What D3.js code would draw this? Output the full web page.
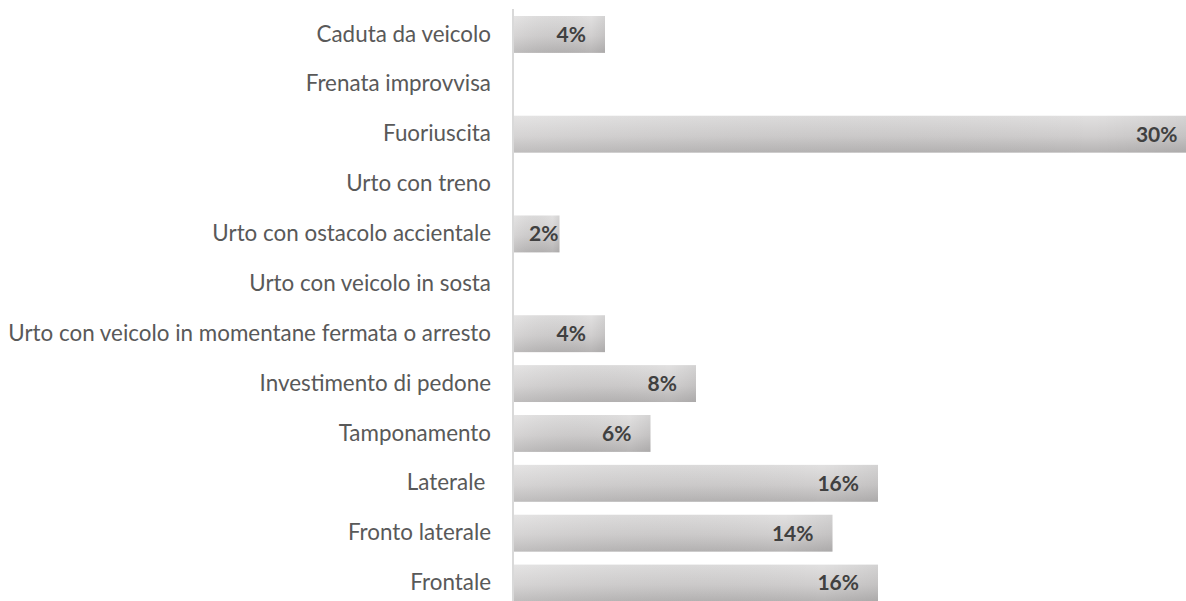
<!DOCTYPE html>
<html>
<head>
<meta charset="utf-8">
<script src="https://cdn.jsdelivr.net/npm/d3@7"></script>
<style>
  body { margin: 0; background: #fff; }
  svg { display: block; }
  text { white-space: pre; }
</style>
</head>
<body>
<div class="chart"></div>
<script>
// data
var categories = [
  'Caduta da veicolo',
  'Frenata improvvisa',
  'Fuoriuscita',
  'Urto con treno',
  'Urto con ostacolo accientale',
  'Urto con veicolo in sosta',
  'Urto con veicolo in momentane fermata o arresto',
  'Investimento di pedone',
  'Tamponamento',
  'Laterale ',
  'Fronto laterale',
  'Frontale'
];
var values = [0.04, 0, 0.30, 0, 0.02, 0, 0.04, 0.08, 0.06, 0.16, 0.14, 0.16];

var rows = categories.map(function(c, i) { return { cat: c, val: values[i] }; });

// options
var width = 1186,
    height = 601,
    x0 = 514,
    labelColor = '#595959',
    valueColor = '#404040',
    axisColor = '#d9d9d9';

var svg = d3.select('.chart')
  .append('svg')
  .attr('width', width)
  .attr('height', height);

// gradient like the office bar style
var defs = svg.append('defs');
var grad = defs.append('linearGradient')
  .attr('id', 'barGrad')
  .attr('x1', 0).attr('y1', 0)
  .attr('x2', 0).attr('y2', 1);
grad.append('stop').attr('offset', '0%').attr('stop-color', '#e1e0e0');
grad.append('stop').attr('offset', '55%').attr('stop-color', '#d0cece');
grad.append('stop').attr('offset', '100%').attr('stop-color', '#b6b4b4');

var shade = defs.append('linearGradient')
  .attr('id', 'barShade')
  .attr('x1', 0).attr('y1', 0)
  .attr('x2', 1).attr('y2', 0);
shade.append('stop').attr('offset', '0%').attr('stop-color', '#fff').attr('stop-opacity', 0.12);
shade.append('stop').attr('offset', '85%').attr('stop-color', '#000').attr('stop-opacity', 0.0);
shade.append('stop').attr('offset', '100%').attr('stop-color', '#000').attr('stop-opacity', 0.06);

// scales
var y = d3.scaleBand()
  .domain(categories)
  .range([9.5, 608])
  .paddingInner(0.26)
  .paddingOuter(0.13);

var x = d3.scaleLinear()
  .domain([0, 0.30])
  .range([x0, x0 + 682.5]);

var shown = rows.filter(function(d) { return d.val > 0; });

// bars
var bars = svg.append('g').attr('class', 'bars');
bars.selectAll('rect.bar')
  .data(shown)
  .enter()
  .append('rect')
  .attr('class', 'bar')
  .attr('x', x(0))
  .attr('y', function(d) { return y(d.cat); })
  .attr('width', function(d) { return x(d.val) - x(0); })
  .attr('height', y.bandwidth())
  .attr('fill', 'url(#barGrad)');

bars.selectAll('rect.shade')
  .data(shown)
  .enter()
  .append('rect')
  .attr('class', 'shade')
  .attr('x', x(0))
  .attr('y', function(d) { return y(d.cat); })
  .attr('width', function(d) { return x(d.val) - x(0); })
  .attr('height', y.bandwidth())
  .attr('fill', 'url(#barShade)');

// category axis
var axisY = d3.axisLeft(y).tickSize(0).tickPadding(22);
var gAxis = svg.append('g')
  .attr('class', 'axisY')
  .attr('transform', 'translate(' + (x0 - 1) + ',0)')
  .call(axisY);
gAxis.select('.domain').remove();
gAxis.selectAll('text')
  .attr('font-family', 'Lato, "Open Sans", sans-serif')
  .attr('font-size', '22.4px')
  .attr('fill', labelColor);

svg.append('line')
  .attr('x1', x0 - 1).attr('x2', x0 - 1)
  .attr('y1', 9).attr('y2', height)
  .attr('stroke', axisColor)
  .attr('stroke-width', 2);

// value labels inside end (kept inside short bars)
svg.append('g').attr('class', 'values')
  .selectAll('text')
  .data(shown)
  .enter()
  .append('text')
  .attr('y', function(d) { return y(d.cat) + y.bandwidth() / 2; })
  .attr('dy', '0.35em')
  .attr('text-anchor', 'end')
  .attr('font-family', 'Lato, "Open Sans", sans-serif')
  .attr('font-weight', 'bold')
  .attr('font-size', '21px')
  .attr('fill', valueColor)
  .text(function(d) { return d3.format('.0%')(d.val); })
  .attr('x', function(d) {
    var w = this.getComputedTextLength();
    return Math.max(x(d.val) - 19, x(0) + 15 + w);
  });
</script>
</body>
</html>
